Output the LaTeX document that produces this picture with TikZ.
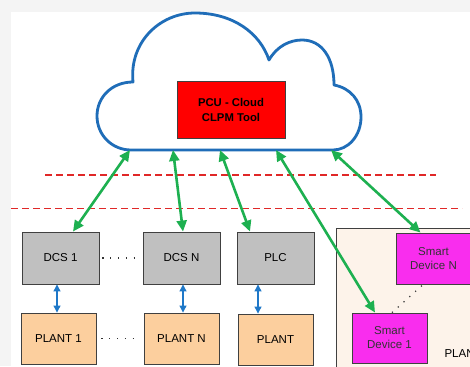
\documentclass[tikz,border=0pt]{standalone}
\usepackage{fontspec}
\setmainfont{Liberation Sans}
\usetikzlibrary{arrows.meta}
\definecolor{bgout}{HTML}{F4F4F4}
\definecolor{cloudblue}{HTML}{1F6DB8}
\definecolor{arrgreen}{HTML}{1DB050}
\definecolor{dashred}{HTML}{E02828}
\definecolor{boxgrey}{HTML}{C0C0C0}
\definecolor{peach}{HTML}{FCCF9E}
\definecolor{magent}{HTML}{F92DEE}
\definecolor{regionfill}{HTML}{FDF3EA}
\definecolor{edgegrey}{HTML}{404040}
\definecolor{smallblue}{HTML}{1F78C8}
\tikzset{
  boxbase/.style={draw=edgegrey, line width=0.9pt, inner sep=0pt, align=center,
    font=\fontsize{11.5}{14}\selectfont},
  dcsbox/.style={boxbase, fill=boxgrey, minimum width=77pt, minimum height=52pt},
  plantbox/.style={boxbase, fill=peach, minimum width=75pt, minimum height=51pt},
  smartbox/.style={boxbase, fill=magent, text=black!80, minimum width=75pt, minimum height=51pt},
  greenarrow/.style={draw=arrgreen, line width=2.6pt,
    {Triangle[length=11pt,width=10pt]}-{Triangle[length=11pt,width=10pt]}},
  bluearrow/.style={draw=smallblue, line width=1.1pt,
    {Triangle[length=7pt,width=7pt]}-{Triangle[length=7pt,width=7pt]}},
  redline/.style={draw=dashred, line width=1.3pt, dash pattern=on 7pt off 4pt},
  dotline/.style={draw=black!80, line width=1.2pt, dash pattern=on 1.2pt off 6.6pt},
}
\begin{document}
\begin{tikzpicture}[x=1pt,y=-1pt]
\useasboundingbox (0,0) rectangle (470,366);
\fill[bgout] (0,0) rectangle (470,366);
\fill[white] (11,12) rectangle (472,368);
% plant region
\draw[fill=regionfill, draw=edgegrey, line width=0.9pt] (336,228) rectangle (476,372);
\node[anchor=west, font=\fontsize{11.5}{14}\selectfont] (plantlbl) at (441,354) {PLANT};
% dashed lines
\draw[redline] (45,175) -- (436,175);
\draw[redline] (11,208.5) -- (462,208.5);
% cloud
\draw[cloudblue, line width=2.8pt, fill=white, line join=round]
  (131,150) .. controls (112,150) and (97,135) .. (97,116)
  .. controls (97,97) and (112,82) .. (133,82)
  .. controls (129,42) and (160,13) .. (195,13)
  .. controls (233,13) and (260,33) .. (269,60)
  .. controls (277,46) and (290,40) .. (302,40)
  .. controls (322,40) and (334,58) .. (334,85)
  .. controls (350,88) and (361,100) .. (361,117)
  .. controls (361,136) and (348,150) .. (333,150)
  -- cycle;
\coordinate (c1) at (130,150);
\coordinate (c2) at (173,150);
\coordinate (c3) at (220,150);
\coordinate (c4) at (276,150);
\coordinate (c5) at (331,150);
\node[draw=edgegrey, line width=0.9pt, fill=red, minimum width=108pt, minimum height=57pt,
  align=center, font=\fontsize{11.3}{15}\selectfont\bfseries] (pcu) at (231,109.5) {PCU - Cloud\\CLPM Tool};
% boxes
\node[dcsbox] (dcs1) at (60.5,258) {DCS 1};
\node[dcsbox] (dcsn) at (181.5,258) {DCS N};
\node[dcsbox] (plc) at (275.5,258) {PLC};
\node[plantbox] (plant1) at (58.5,338.5) {PLANT 1};
\node[plantbox] (plantn) at (181.5,338.5) {PLANT N};
\node[plantbox] (plant) at (275.5,339.5) {PLANT};
\node[smartbox] (sdn) at (433.5,258.5) {Smart\\Device N};
\node[smartbox, minimum height=50pt] (sd1) at (389.5,338) {Smart\\Device 1};
% dotted connectors
\draw[dotline] ([xshift=3pt]dcs1.east) -- ([xshift=-3pt]dcsn.west);
\draw[dotline] ([xshift=5pt]plant1.east) -- ([xshift=-4pt]plantn.west);
\draw[dotline] ([xshift=2.5pt]sd1.north) -- ([xshift=-7pt,yshift=3pt]sdn.south);
% blue arrows
\draw[bluearrow] ([xshift=-3.5pt]dcs1.south) -- ([xshift=-3.5pt]dcs1.south |- plant1.north);
\draw[bluearrow] ([xshift=1.5pt]dcsn.south) -- ([xshift=1.5pt]dcsn.south |- plantn.north);
\draw[bluearrow] ([xshift=-17.5pt]plc.south) -- ([xshift=-17.5pt]plc.south |- plant.north);
% green arrows
\draw[greenarrow] (c1) -- ([xshift=12.5pt]dcs1.north);
\draw[greenarrow] (c2) -- ([xshift=1.5pt]dcsn.north);
\draw[greenarrow] (c3) -- ([xshift=-25.5pt]plc.north);
\draw[greenarrow] (c4) -- ([xshift=-14.5pt]sd1.north);
\draw[greenarrow] (c5) -- ([xshift=-13pt]sdn.north);
\end{tikzpicture}
\end{document}
